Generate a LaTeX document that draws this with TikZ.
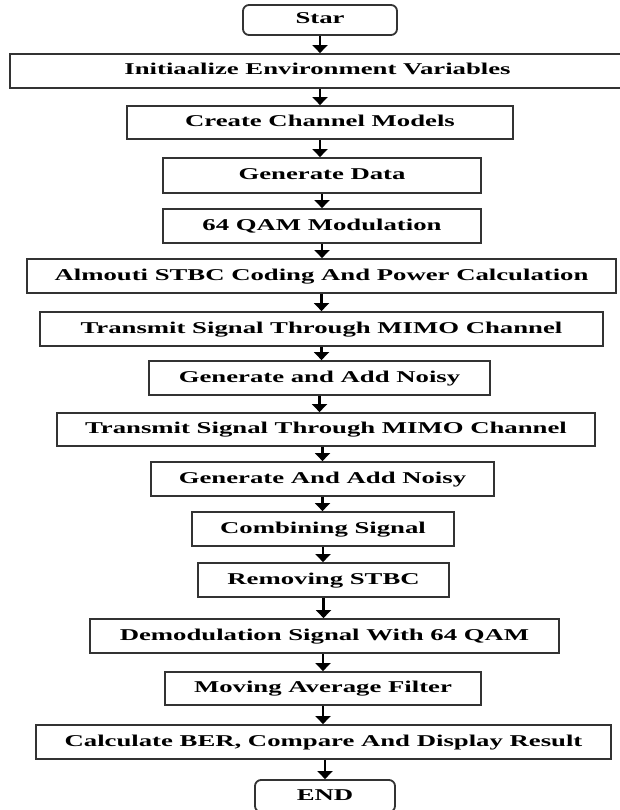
\documentclass[tikz,border=0pt]{standalone}
\usepackage{fontspec}
\newfontfamily\flowfont{Liberation Serif}[FakeStretch=1.62]
\usepackage{tikz}
\usetikzlibrary{arrows.meta}
\tikzstyle{Arrow} = [
%Arrow between two steps:
line width = 2.6pt,
-{Triangle[width = 15pt, length = 8pt]}
]

\begin{document}
\begin{tikzpicture}[x = 1pt, y = -1pt,
			process/.style = {rectangle, draw = black!80, line width = 1.8pt, minimum height = 34pt, inner sep = 0pt, text height = 11pt, text depth = 3pt, font = \flowfont\bfseries\fontsize{16.5}{18}\selectfont},
			terminal/.style = {process, rounded corners = 6pt, minimum height = 30pt},
		]
		\useasboundingbox (0,0) rectangle (620,810);

		\node[terminal, minimum width = 154pt](Start) at (320,20){Star};
		\node[process, minimum width = 615pt](Init) at (317.5,71){Initiaalize Environment Variables};
		\node[process, minimum width = 386pt, minimum height = 33pt](Chan) at (320,122.5){Create Channel Models};
		\node[process, minimum width = 318pt, minimum height = 35pt](Data) at (322,175.5){Generate Data};
		\node[process, minimum width = 318pt](QAM) at (322,226){64 QAM Modulation};
		\node[process, minimum width = 589pt](STBC) at (321.5,276){Almouti STBC Coding And Power Calculation};
		\node[process, minimum width = 563pt](TXa) at (321.5,329){Transmit Signal Through MIMO Channel};
		\node[process, minimum width = 341pt](Noisea) at (319.5,378){Generate and Add Noisy};
		\node[process, minimum width = 538pt, minimum height = 33pt](TXb) at (326,429.5){Transmit Signal Through MIMO Channel};
		\node[process, minimum width = 343pt](Noiseb) at (322.5,479){Generate And Add Noisy};
		\node[process, minimum width = 262pt](Comb) at (323,529){Combining Signal};
		\node[process, minimum width = 251pt](Rem) at (323.5,580){Removing STBC};
		\node[process, minimum width = 469pt](Demod) at (324.5,636){Demodulation Signal With 64 QAM};
		\node[process, minimum width = 316pt, minimum height = 33pt](Filt) at (323,688.5){Moving Average Filter};
		\node[process, minimum width = 575pt](BER) at (323.5,742){Calculate BER, Compare And Display Result};
		\node[terminal, minimum width = 140pt, minimum height = 32pt](End) at (325,796){END};

		\draw[Arrow](Start.south)--(Start.south |- Init.north);
		\draw[Arrow](Chan.north |- Init.south)--(Chan.north);
		\draw[Arrow](Chan.south)--(Chan.south |- Data.north);
		\draw[Arrow](Data.south)--(Data.south |- QAM.north);
		\draw[Arrow](QAM.south)--(QAM.south |- STBC.north);
		\draw[Arrow](STBC.south)--(STBC.south |- TXa.north);
		\draw[Arrow](TXa.south)--(TXa.south |- Noisea.north);
		\draw[Arrow](Noisea.south)--(Noisea.south |- TXb.north);
		\draw[Arrow](Noiseb.north |- TXb.south)--(Noiseb.north);
		\draw[Arrow](Noiseb.south)--(Noiseb.south |- Comb.north);
		\draw[Arrow](Comb.south)--(Comb.south |- Rem.north);
		\draw[Arrow](Rem.south)--(Rem.south |- Demod.north);
		\draw[Arrow](Filt.north |- Demod.south)--(Filt.north);
		\draw[Arrow](Filt.south)--(Filt.south |- BER.north);
		\draw[Arrow](End.north |- BER.south)--(End.north);

	\end{tikzpicture}
\end{document}
